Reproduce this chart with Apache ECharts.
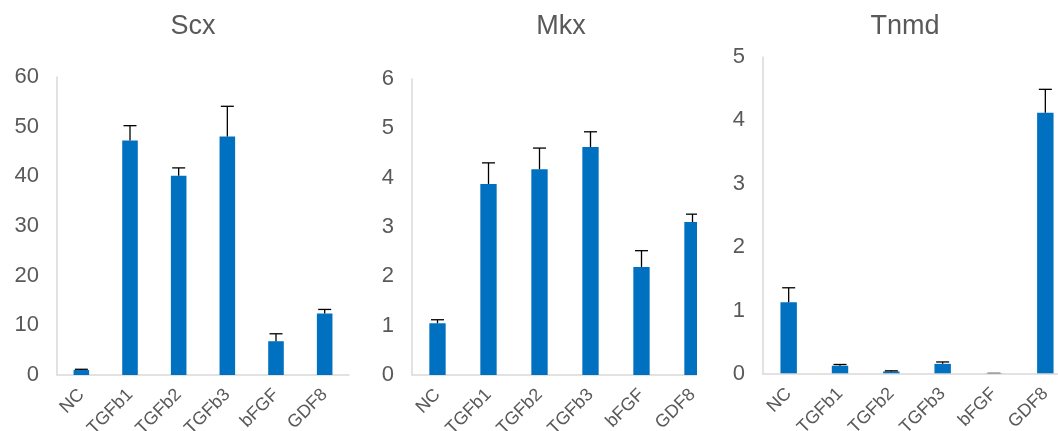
<!DOCTYPE html>
<html>
<head>
<meta charset="utf-8">
<script src="https://cdn.jsdelivr.net/npm/echarts@6/dist/echarts.min.js"></script>
<style>
html,body{margin:0;padding:0;background:#fff;}
#c{width:1058px;height:431px;}
</style>
</head>
<body>
<div id="c"></div>
<script>
var categories = ['NC', 'TGFb1', 'TGFb2', 'TGFb3', 'bFGF', 'GDF8'];
var titles = ['Scx', 'Mkx', 'Tnmd'];

var scxValues = [1.0, 47.2, 40.1, 48.0, 6.8, 12.4];
var scxErrors = [0.15, 3.0, 1.6, 6.1, 1.5, 0.8];

var mkxValues = [1.05, 3.87, 4.17, 4.62, 2.19, 3.10];
var mkxErrors = [0.07, 0.43, 0.43, 0.31, 0.33, 0.16];

var tnmdValues = [1.13, 0.13, 0.04, 0.16, 0.01, 4.12];
var tnmdErrors = [0.23, 0.02, 0.01, 0.03, 0.0, 0.37];

var yMax = [60, 6, 5];
var yInterval = [10, 1, 1];

var valueSets = [scxValues, mkxValues, tnmdValues];
var errorSets = [scxErrors, mkxErrors, tnmdErrors];

var grids = [
  {left: 57, top: 77, width: 292, height: 298, outerBoundsMode: 'none'},
  {left: 412, top: 79, width: 306, height: 296, outerBoundsMode: 'none'},
  {left: 763, top: 57, width: 308, height: 317, outerBoundsMode: 'none'}
];
var titleX = [188, 556, 900];

var textColor = '#595959';
var axisColor = '#d9d9d9';
var barColor = '#0070C0';

function errRender(params, api) {
  var x = api.value(0), v = api.value(1), e = api.value(2);
  var p0 = api.coord([x, v]);
  var p1 = api.coord([x, v + e]);
  var hw = 6.5;
  return {
    type: 'group',
    children: [
      {type: 'line', shape: {x1: p0[0], y1: p0[1], x2: p1[0], y2: p1[1]}, style: {stroke: '#000', lineWidth: 1.3}},
      {type: 'line', shape: {x1: p1[0] - hw, y1: p1[1], x2: p1[0] + hw, y2: p1[1]}, style: {stroke: '#000', lineWidth: 1.3}}
    ]
  };
}

var option = {
  animation: false,
  backgroundColor: '#fff',
  title: [],
  grid: [],
  xAxis: [],
  yAxis: [],
  series: [],
  graphic: [{
    type: 'rect', z: 10, silent: true,
    shape: {x: 697, y: 0, width: 66, height: 431},
    style: {fill: '#fff'}
  }]
};

for (var k = 0; k < 3; k++) {
  option.title.push({
    text: titles[k], left: titleX[k], top: 8, textAlign: 'center',
    textStyle: {fontFamily: 'Liberation Sans', fontSize: 27, fontWeight: 'normal', color: textColor}
  });
  option.grid.push(grids[k]);
  option.xAxis.push({
    type: 'category', gridIndex: k, data: categories, z: k === 2 ? 20 : 0,
    axisLine: {show: true, lineStyle: {color: axisColor, width: 1.5}},
    axisTick: {show: false},
    axisLabel: {interval: 0, rotate: 45, margin: 17, fontSize: 18, color: textColor, fontFamily: 'Liberation Sans'}
  });
  option.yAxis.push({
    type: 'value', gridIndex: k, min: 0, max: yMax[k], interval: yInterval[k], z: k === 2 ? 20 : 0,
    axisLine: {show: true, lineStyle: {color: axisColor, width: 1.5}},
    axisTick: {show: false},
    splitLine: {show: false},
    axisLabel: {margin: 18, fontSize: 22, color: textColor, fontFamily: 'Liberation Sans'}
  });
  option.series.push({
    type: 'bar', xAxisIndex: k, yAxisIndex: k, data: valueSets[k],
    barWidth: '32%', itemStyle: {color: barColor}
  });
  var errData = valueSets[k].map(function (v, i) { return [i, v, errorSets[k][i]]; });
  option.series.push({
    type: 'custom', xAxisIndex: k, yAxisIndex: k, data: errData, z: 3,
    encode: {x: 0, y: 1}, renderItem: errRender
  });
}

var chart = echarts.init(document.getElementById('c'), null, {renderer: 'canvas'});
chart.setOption(option);
</script>
</body>
</html>
